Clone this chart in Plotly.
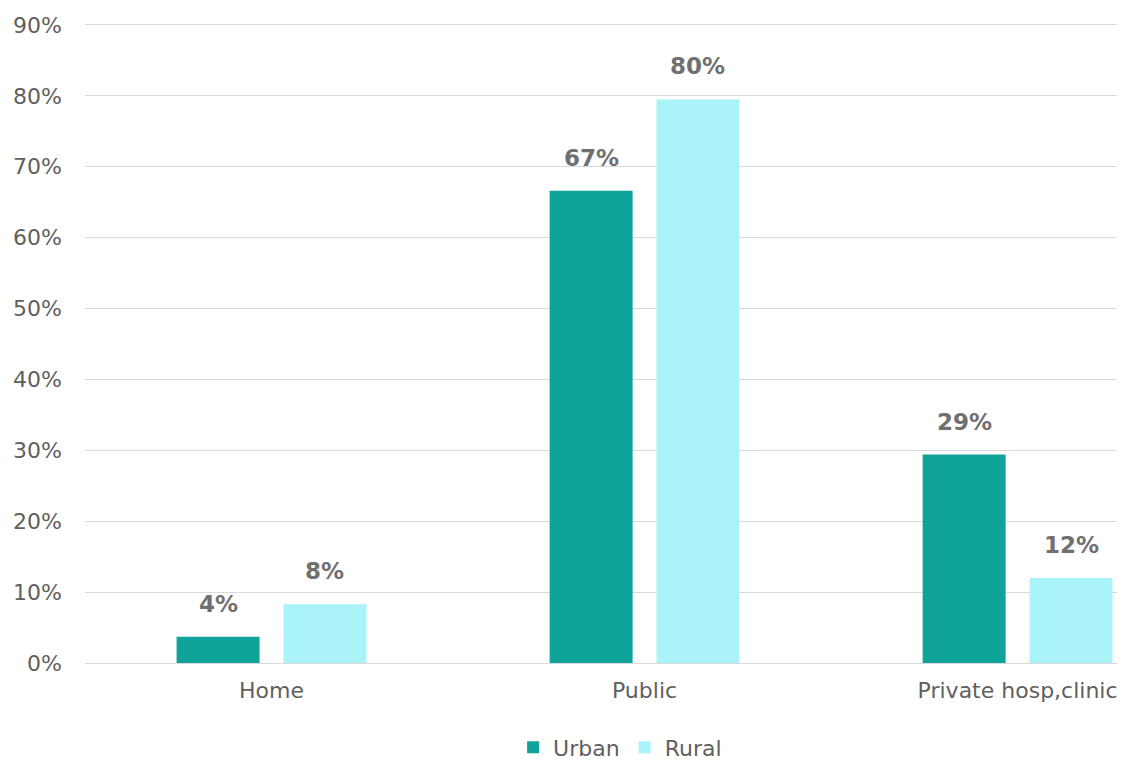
import plotly.graph_objects as go

categories = ["Home", "Public", "Private hosp,clinic"]
urban = [0.037, 0.666, 0.294]
rural = [0.083, 0.795, 0.120]
series_names = ["Urban", "Rural"]
y_ticks = [0, 0.1, 0.2, 0.3, 0.4, 0.5, 0.6, 0.7, 0.8, 0.9]

urban_color = "#0fa39a"
rural_color = "#aaf3f8"
text_color = "#5f5f5f"
label_color = "#707070"
font_family = "DejaVu Sans, Verdana, sans-serif"

xs = list(range(len(categories)))
bar_w = 0.2225
offsets = [-0.2545, 0.032]

W, H = 1117, 753

fig = go.Figure()
for name, vals, col, off in zip(series_names, [urban, rural], [urban_color, rural_color], offsets):
    fig.add_trace(go.Bar(
        x=xs, y=vals, name=name, width=bar_w, offset=off,
        marker=dict(color=col, line=dict(width=0)),
    ))
    for xi, v in zip(xs, vals):
        fig.add_annotation(
            x=xi + off + bar_w / 2, y=v, xref="x", yref="y",
            text=f"{round(v * 100):.0f}%", showarrow=False,
            yanchor="bottom", yshift=18,
            font=dict(family=font_family, size=23, color=label_color, weight="bold"),
        )

fig.update_layout(
    width=W, height=H,
    margin=dict(l=77, r=0, t=13, b=98, autoexpand=False),
    plot_bgcolor="white", paper_bgcolor="white",
    font=dict(family=font_family, size=22, color=text_color),
    barmode="overlay",
    showlegend=True,
    legend=dict(orientation="h", xref="container", x=0.548, xanchor="center",
                yref="container", y=0.018, yanchor="middle",
                font=dict(size=22, color=text_color), traceorder="normal"),
)
fig.update_xaxes(
    tickvals=xs, ticktext=categories, range=[-0.5, 2.288], automargin=False,
    showgrid=False, showline=True, linecolor="#d9d9d9", linewidth=1,
    ticks="", tickfont=dict(size=22, color=text_color), zeroline=False,
    ticklabelstandoff=8,
)
fig.update_yaxes(
    range=[0, 0.9056], tickvals=y_ticks, tickformat=".0%", automargin=False,
    showgrid=True, gridcolor="#d9d9d9", gridwidth=1, zeroline=False,
    showline=False, ticks="", ticklabelstandoff=22,
    tickfont=dict(size=22, color=text_color),
)

fig.write_html("out.html")
